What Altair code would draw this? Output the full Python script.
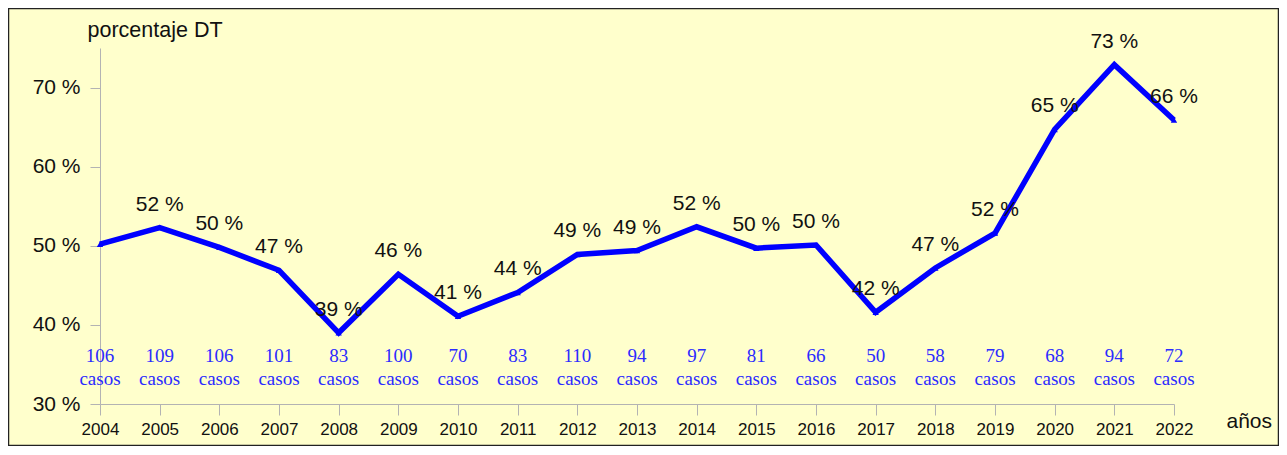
import altair as alt
import pandas as pd

years = list(range(2004, 2023))
pct = [50.2, 52.3, 49.8, 46.9, 39.0, 46.4, 41.1, 44.1, 48.9, 49.4, 52.4, 49.7, 50.1, 41.6, 47.2, 51.6, 64.7, 72.9, 65.9]
pct_labels = ["", "52 %", "50 %", "47 %", "39 %", "46 %", "41 %", "44 %", "49 %", "49 %", "52 %",
              "50 %", "50 %", "42 %", "47 %", "52 %", "65 %", "73 %", "66 %"]
cases = ["106", "109", "106", "101", "83", "100", "70", "83", "110", "94", "97", "81", "66", "50", "58", "79", "68", "94", "72"]
y_ticks = [30, 40, 50, 60, 70]

df = pd.DataFrame({"year": years, "pct": pct, "label": pct_labels, "cases": cases})

BG = "#FFFFCC"
BLUE = "#0000FF"
CASE_BLUE = "#2B2BFF"
AXIS_GRAY = "#B3B3B3"
FONT = "Liberation Sans"
TXT = "#111111"

x = alt.X("year:Q", scale=alt.Scale(domain=[2004, 2022], nice=False, zero=False),
          axis=alt.Axis(values=years, format="d", title="años", titleAngle=0,
                        titleX=1126, titleY=23, titleAlign="left", titleBaseline="alphabetic",
                        titleFontSize=21, titleFontWeight="normal", titleFont=FONT, titleColor=TXT,
                        labelFontSize=17, labelFont=FONT, labelColor=TXT, labelPadding=6,
                        tickSize=11, tickColor=AXIS_GRAY, domainColor=AXIS_GRAY, grid=False,
                        labelFlush=False, labelOverlap=False))
y = alt.Y("pct:Q", scale=alt.Scale(domain=[30, 75], nice=False, zero=False),
          axis=alt.Axis(values=y_ticks, labelExpr="datum.value + ' %'", title="porcentaje DT",
                        titleAngle=0, titleX=-13, titleY=-12, titleAlign="left",
                        titleBaseline="alphabetic", titleFontSize=21.5, titleFontWeight="normal",
                        titleFont=FONT, titleColor=TXT,
                        labelFontSize=21, labelFont=FONT, labelColor=TXT, labelPadding=10,
                        tickSize=10, tickColor=AXIS_GRAY, domainColor=AXIS_GRAY, grid=False))

base = alt.Chart(df)

border = alt.Chart(pd.DataFrame({"k": [0]})).mark_rect(
    fill=None, stroke="#222222", strokeWidth=1.5, clip=False
).encode(x=alt.value(-91.5), x2=alt.value(1074 + 104.5), y=alt.value(-39.5), y2=alt.value(356 + 41.5))

line = base.mark_line(color=BLUE, strokeWidth=5.5, strokeJoin="miter").encode(x=x, y=y)
pts = base.mark_point(shape="triangle-up", filled=True, size=40, color=BLUE, opacity=1).encode(x="year:Q", y="pct:Q")
labels = base.mark_text(font=FONT, fontSize=21, color=TXT, dy=-17, baseline="alphabetic",
                        align="center").encode(x="year:Q", y="pct:Q", text="label:N")
case_num = base.mark_text(font="Liberation Serif", fontSize=19, color=CASE_BLUE, dy=-42,
                          baseline="alphabetic", align="center").encode(
    x="year:Q", y=alt.datum(30), text="cases:N")
case_word = base.mark_text(font="Liberation Serif", fontSize=19, color=CASE_BLUE, dy=-19,
                           baseline="alphabetic", align="center").encode(
    x="year:Q", y=alt.datum(30), text=alt.value("casos"))

chart = alt.layer(border, line, pts, labels, case_num, case_word).properties(
    width=1074, height=356,
    autosize=alt.AutoSizeParams(type="none"),
    padding={"left": 92, "top": 40, "right": 105, "bottom": 42},
    background=BG,
).configure_view(stroke=None)

chart.save("out.html", embed_options={"renderer": "svg", "actions": False})
